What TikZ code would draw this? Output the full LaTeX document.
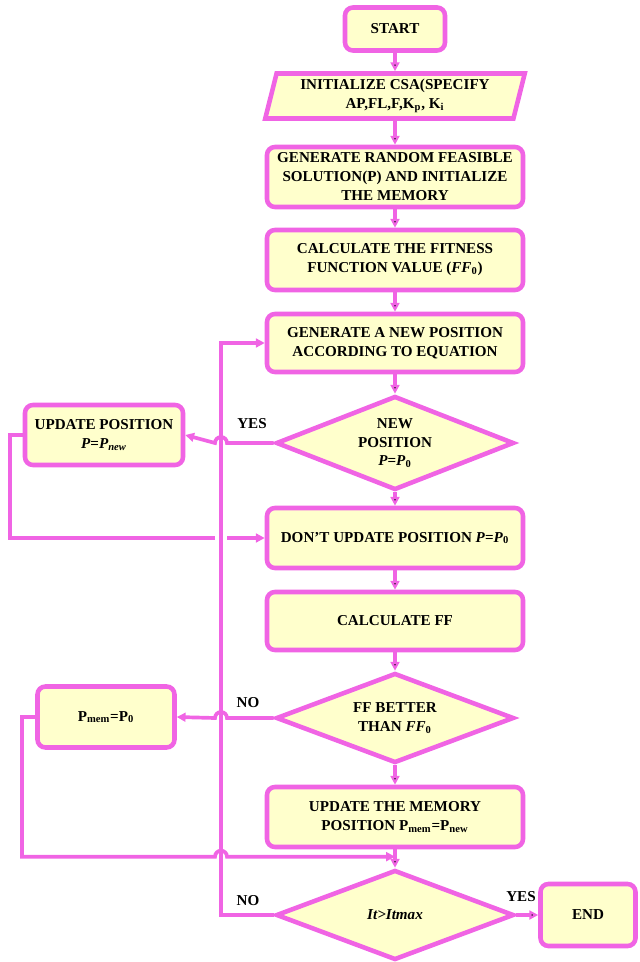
\documentclass[tikz,border=0pt]{standalone}
\usepackage{fontspec}
\setmainfont{Liberation Serif}
\usetikzlibrary{shapes.geometric,arrows.meta,calc}
\definecolor{pinkline}{RGB}{240,100,228}
\definecolor{boxfill}{RGB}{255,255,204}

\begin{document}
\begin{tikzpicture}[x=0.02cm, y=-0.02cm,
    font=\fontsize{8.6}{10.8}\selectfont\bfseries,
    box/.style={shape=rectangle, rounded corners=4.5pt, draw=pinkline, fill=boxfill, line width=2.6pt, align=center, minimum width=5.12cm, minimum height=1.2cm},
    para/.style={shape=trapezium, trapezium left angle=76, trapezium right angle=104, trapezium stretches=true, draw=pinkline, fill=boxfill, line width=2.6pt, align=center, inner sep=1pt, minimum width=5.2cm, minimum height=0.9cm},
    dec/.style={shape=diamond, aspect=2.5, draw=pinkline, fill=boxfill, line width=2.6pt, align=center, inner sep=0pt, minimum width=4.76cm, minimum height=1.88cm},
    conn/.style={draw=pinkline, line width=2.1pt, -{Triangle[length=5pt,width=5pt]}},
    wire/.style={draw=pinkline, line width=2.1pt}]
      \useasboundingbox (0,0) rectangle (639,962);

      \node[box, minimum width=2cm, minimum height=0.86cm] (1) at (395,29) {START};
      \node[para] (2) at (395,96) {INITIALIZE CSA(SPECIFY\\AP,FL,F,K\textsubscript{p}, K\textsubscript{i}};
      \node[box] (3) at (395,177) {GENERATE RANDOM FEASIBLE\\SOLUTION(P) AND INITIALIZE\\THE MEMORY};
      \node[box] (4) at (395,260) {CALCULATE THE FITNESS\\FUNCTION VALUE (\textit{FF}\textsubscript{0})};
      \node[box, minimum height=1.16cm] (5) at (395,343) {GENERATE A NEW POSITION\\ACCORDING TO EQUATION};
      \node[dec] (6) at (395,443) {NEW\\POSITION\\\textit{P}=\textit{P}\textsubscript{0}};
      \node[box, minimum width=3.16cm] (7) at (104,435) {UPDATE POSITION\\\textit{P}=\textit{P}\textsubscript{\textit{new}}};
      \node[box] (8) at (395,538) {DON’T UPDATE POSITION \textit{P}=\textit{P}\textsubscript{0}};
      \node[box, minimum height=1.16cm] (9) at (395,621) {CALCULATE FF};
      \node[dec, minimum height=1.8cm] (10) at (395,718) {FF BETTER\\THAN \textit{FF}\textsubscript{0}};
      \node[box, minimum width=2.74cm, minimum height=1.22cm] (11) at (106,717) {P\textsubscript{mem}=P\textsubscript{0}};
      \node[box] (12) at (395,817) {UPDATE THE MEMORY\\POSITION P\textsubscript{mem}=P\textsubscript{new}};
      \node[dec, minimum height=1.8cm] (13) at (395,915) {\textit{It>Itmax}};
      \node[box, minimum width=1.9cm, minimum height=1.24cm] (14) at (588,915) {END};

      \node (15) at (252,424) {YES};
      \node (16) at (248,703) {NO};
      \node (17) at (248,901) {NO};
      \node (18) at (521,897) {YES};

      \coordinate (a) at (221,0);
      \coordinate (b) at (10,0);
      \coordinate (c) at (22,0);
      \coordinate (d) at ($(12.south)!0.4!(13.north)$);

      \path [conn] (1) edge (2);
      \path [conn] (2) edge (3);
      \path [conn] (3) edge (4);
      \path [conn] (4) edge (5);
      \path [conn] (5) edge (6);
      \path [conn] (6) edge (8);
      \path [conn] (8) edge (9);
      \path [conn] (9) edge (10);
      \path [conn] (10) edge (12);
      \path [conn] (12) edge (13);
      \path [conn] (13) edge (14);

      \draw [conn] (13.west) -- (a |- 13.west) -- (a |- 5.west) -- (5.west);
      \draw [conn] (6.west) -- ($(a |- 6.west)+(6,0)$) arc [start angle=0, end angle=180, radius=0.12cm] -- (7.east);
      \draw [wire] (7.west) -- (b |- 7.west) |- ($(a |- 8.west)+(-6,0)$);
      \draw [conn] ($(a |- 8.west)+(6,0)$) -- (8.west);
      \draw [conn] (10.west) -- ($(a |- 10.west)+(6,0)$) arc [start angle=0, end angle=180, radius=0.12cm] -- (11.east);
      \draw [conn] (11.west) -- (c |- 11.west) |- ($(a |- d)+(-6,0)$) arc [start angle=180, end angle=0, radius=0.12cm] -- (d);
    \end{tikzpicture}
\end{document}
